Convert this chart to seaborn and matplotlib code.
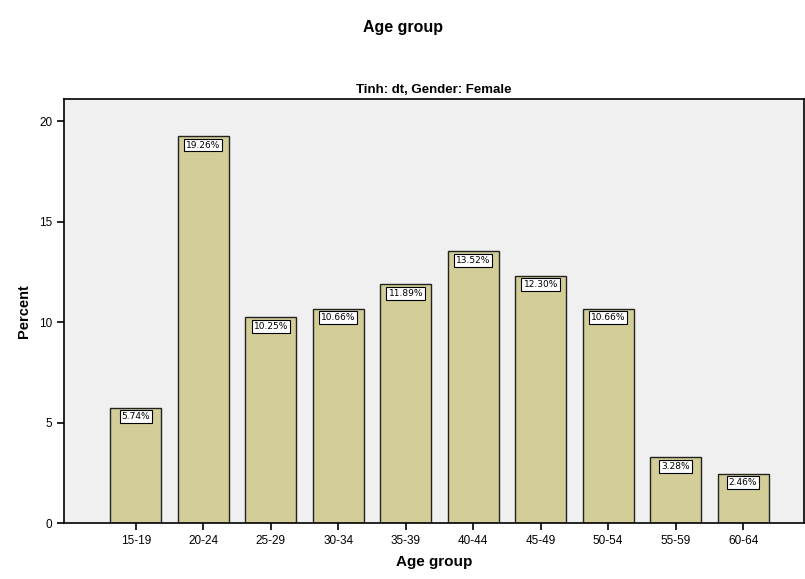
import pandas as pd
import numpy as np
import matplotlib.pyplot as plt
import seaborn as sns

age_groups = ["15-19", "20-24", "25-29", "30-34", "35-39",
              "40-44", "45-49", "50-54", "55-59", "60-64"]
percents = [5.74, 19.26, 10.25, 10.66, 11.89, 13.52, 12.30, 10.66, 3.28, 2.46]

df = pd.DataFrame({"age": age_groups, "pct": percents})

sns.set_style("ticks")
plt.rcParams['font.family'] = ['Liberation Sans', 'DejaVu Sans']
plt.rcParams['text.color'] = 'black'
plt.rcParams['axes.labelcolor'] = 'black'
plt.rcParams['xtick.color'] = 'black'
plt.rcParams['ytick.color'] = 'black'

fig = plt.figure(figsize=(8.05, 5.79), dpi=100)
ax = fig.add_axes([0.0795, 0.0967, 0.919, 0.7323])
ax.set_facecolor("#f0f0f0")

sns.barplot(data=df, x="age", y="pct", color="#d3ce98", saturation=1,
            width=0.755, edgecolor="#222222", linewidth=1.0, ax=ax)

# value labels in white boxes at the top of each bar
for i, v in enumerate(percents):
    ax.annotate(f"{v:.2f}%", (i, v), xytext=(0, -6.5), textcoords="offset points",
                ha="center", va="center", fontsize=6.5, family="DejaVu Sans",
                bbox=dict(boxstyle="square,pad=0.22", fc="white", ec="black", lw=0.8))

ax.set_xlim(-1.065, 9.9)
ax.set_ylim(0, 21.1)
ax.set_yticks([0, 5, 10, 15, 20])
ax.tick_params(labelsize=8.5, length=5, width=1.2, color="black")
for s in ax.spines.values():
    s.set_color("black")
    s.set_linewidth(1.2)
ax.set_xlabel("Age group", fontsize=11, fontweight="bold", labelpad=6)
ax.set_ylabel("Percent", fontsize=10.5, fontweight="bold", labelpad=6)
ax.set_title("Tinh: dt, Gender: Female", fontsize=9.5, fontweight="bold", pad=4)
fig.suptitle("Age group", fontsize=11.5, fontweight="bold", y=0.965)

fig.savefig("out.png", dpi=100, facecolor="white")
